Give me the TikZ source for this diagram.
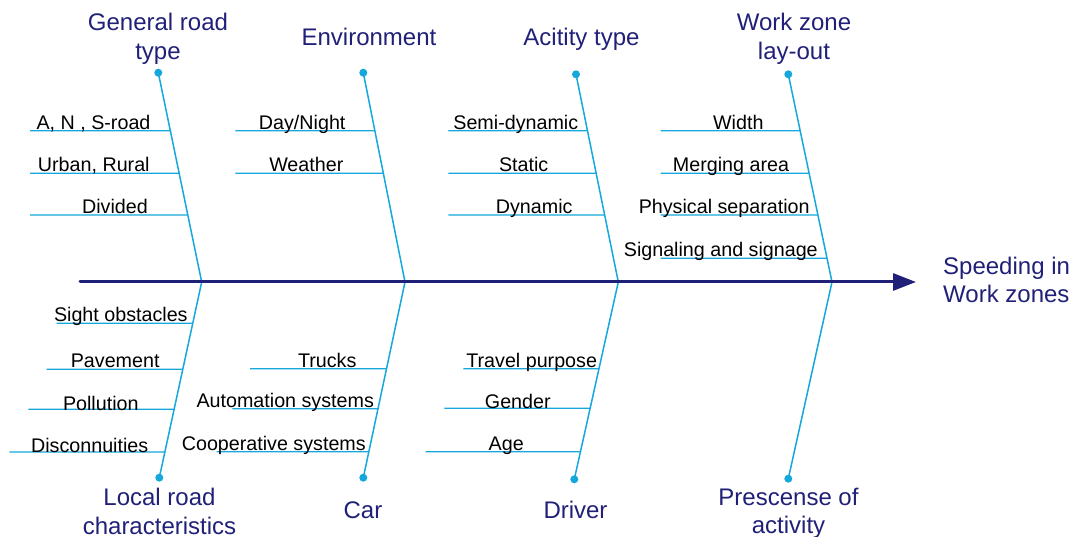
\documentclass[tikz,border=0pt]{standalone}
\usepackage{fontspec}
\setmainfont{Liberation Sans}
\usetikzlibrary{arrows.meta}
\definecolor{bonecyan}{RGB}{22,168,220}
\definecolor{navy}{RGB}{32,32,120}

% one sub-cause: a horizontal twig from the bone out to the left, with its label
% #1 name, #2 bone end (dot), #3 point of the bone on the spine, #4 twig y,
% #5 left end x, #6 label x, #7 label baseline y, #8 label text
\newcommand{\twig}[8]{%
  \coordinate (#1r) at (intersection cs: first line={(#2.center)--(#3)}, second line={(0,#4)--(1,#4)});
  \coordinate (#1l) at (#5,#4);
  \draw[twigline] (#1r) -- (#1l);
  \node[leaf] (#1) at (#6,#7) {#8};
}

\begin{document}
\begin{tikzpicture}[x=1pt,y=-1pt,
  bone/.style={draw=bonecyan, line width=1.5pt},
  twigline/.style={draw=bonecyan, line width=1.3pt},
  dot/.style={circle, fill=bonecyan, inner sep=0pt, minimum size=8pt},
  leaf/.style={font=\fontsize{19.7}{23}\selectfont, text=black, inner sep=0pt, anchor=base},
  cause/.style={font=\fontsize{24}{28.6}\selectfont, text=navy, inner sep=0pt, anchor=base, align=center},
  spine/.style={draw=navy, line width=3pt, line cap=round, -{Triangle[length=23pt,width=17pt]}}
]
\useasboundingbox (0,0) rectangle (1077,537);

% spine points
\coordinate (tail) at (80,282);
\coordinate (head) at (916,282);
\coordinate (s1) at (201.7,282);
\coordinate (s2) at (405,282);
\coordinate (s3) at (618.3,282);
\coordinate (s4) at (832,282);

% bone end dots
\node[dot] (t1) at (158.3,72.7) {};
\node[dot] (t2) at (363.3,72.7) {};
\node[dot] (t3) at (576,74.3) {};
\node[dot] (t4) at (788.3,74.3) {};
\node[dot] (b1) at (159.3,477.7) {};
\node[dot] (b2) at (363.3,477.7) {};
\node[dot] (b3) at (574.3,479.3) {};
\node[dot] (b4) at (788.3,478.7) {};

% bones
\foreach \i in {1,2,3,4}{
  \draw[bone] (t\i.center) -- (s\i);
  \draw[bone] (s\i) -- (b\i.center);
}

% spine with arrow
\draw[spine] (tail) -- (head);

% cause categories (base = baseline of the last line)
\node[cause] (c1) at (158,59.3) {General road\\type};
\node[cause] (c2) at (369,45.7) {Environment};
\node[cause] (c3) at (581.5,45.7) {Acitity type};
\node[cause] (c4) at (794,59.3) {Work zone\\lay-out};
\node[cause] (c5) at (159.5,534.3) {Local road\\characteristics};
\node[cause] (c6) at (363,518.3) {Car};
\node[cause] (c7) at (575.5,518.3) {Driver};
\node[cause] (c8) at (788.5,533.6) {Prescense of\\activity};
\node[cause, align=left, anchor=base west] (eff) at (943,303) {Speeding in\\Work zones};

% general road type
\twig{a1}{t1}{s1}{130.7}{30}{93.5}{129.2}{A, N , S-road}
\twig{a2}{t1}{s1}{173.3}{30}{93.8}{171.8}{Urban, Rural}
\twig{a3}{t1}{s1}{215}{30}{115}{213.5}{Divided}

% environment
\twig{e1}{t2}{s2}{130.7}{235.3}{302.2}{129.2}{Day/Night}
\twig{e2}{t2}{s2}{173.3}{235.3}{306.3}{171.8}{Weather}

% activity type
\twig{v1}{t3}{s3}{130.7}{448.3}{515.8}{129.2}{Semi-dynamic}
\twig{v2}{t3}{s3}{173.3}{448.3}{523.7}{171.8}{Static}
\twig{v3}{t3}{s3}{215}{448.3}{534.2}{213.5}{Dynamic}

% work zone lay-out
\twig{w1}{t4}{s4}{130.7}{660.7}{738.3}{129.2}{Width}
\twig{w2}{t4}{s4}{173.3}{660.7}{731}{171.8}{Merging area}
\twig{w3}{t4}{s4}{215}{660.7}{724.2}{213.5}{Physical separation}
\twig{w4}{t4}{s4}{258.3}{660.7}{720.8}{256.8}{Signaling and signage}

% local road characteristics
\twig{l1}{b1}{s1}{323.3}{56.7}{120.8}{321.8}{Sight obstacles}
\twig{l2}{b1}{s1}{369.3}{46.7}{115.2}{367.8}{Pavement}
\twig{l3}{b1}{s1}{409.3}{28.3}{100.8}{410}{Pollution}
\twig{l4}{b1}{s1}{452}{9.3}{89.7}{453}{Disconnuities}

% car
\twig{r1}{b2}{s2}{368.7}{250}{327.2}{367.2}{Trucks}
\twig{r2}{b2}{s2}{408.7}{232.3}{285.2}{407.2}{Automation systems}
\twig{r3}{b2}{s2}{451.7}{216.7}{273.8}{450.2}{Cooperative systems}

% driver
\twig{d1}{b3}{s3}{368.7}{463.3}{531.7}{367.2}{Travel purpose}
\twig{d2}{b3}{s3}{408.3}{444.3}{517.8}{408.3}{Gender}
\twig{d3}{b3}{s3}{451.7}{425.7}{506.2}{450.5}{Age}

\end{tikzpicture}
\end{document}
